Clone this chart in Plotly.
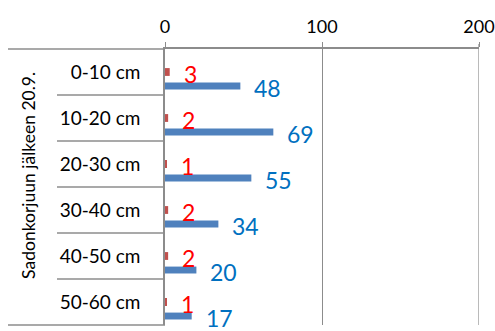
import plotly.graph_objects as go

categories = ["0-10 cm", "10-20 cm", "20-30 cm", "30-40 cm", "40-50 cm", "50-60 cm"]
series_red = [3, 2, 1, 2, 2, 1]
series_blue = [48, 69, 55, 34, 20, 17]
group_label = "Sadonkorjuun jälkeen 20.9."
x_ticks = [0, 100, 200]

FONT = "Lato, Open Sans, sans-serif"
GRAY = "#8c8c8c"

fig = go.Figure()
fig.add_trace(go.Bar(
    x=series_red, y=categories, orientation="h",
    marker=dict(color="#C0504D", line=dict(width=0)),
    width=0.17, offset=-0.085, showlegend=False, hoverinfo="x+y",
))
fig.add_trace(go.Bar(
    x=series_blue, y=categories, orientation="h",
    marker=dict(color="#4F81BD", line=dict(width=0)),
    width=0.15, offset=0.23, showlegend=False, hoverinfo="x+y",
))

annotations = []
for cat, v in zip(categories, series_red):
    annotations.append(dict(x=v, y=cat, xref="x", yref="y", text=str(v),
                            showarrow=False, xanchor="left", yanchor="middle",
                            xshift=12, yshift=-2,
                            font=dict(family=FONT, size=23, color="#FF0000")))
for cat, v in zip(categories, series_blue):
    annotations.append(dict(x=v, y=cat, xref="x", yref="y", text=str(v),
                            showarrow=False, xanchor="left", yanchor="middle",
                            xshift=12, yshift=-16,
                            font=dict(family=FONT, size=23, color="#0070C0")))
annotations.append(dict(x=-0.437, y=0.543, xref="paper", yref="paper",
                        text=group_label, textangle=-90, showarrow=False,
                        xanchor="center", yanchor="middle",
                        font=dict(family=FONT, size=17.5, color="#000000")))

shapes = [
    dict(type="line", xref="paper", yref="paper", x0=-0.5, x1=0, y0=1, y1=1,
         line=dict(color=GRAY, width=1.5)),
    dict(type="line", xref="paper", yref="paper", x0=-0.5, x1=0, y0=0, y1=0,
         line=dict(color=GRAY, width=1.5)),
    dict(type="line", xref="x", yref="paper", x0=x_ticks[-1], x1=x_ticks[-1],
         y0=0, y1=1.018, line=dict(color=GRAY, width=1.2)),
]
for k in range(len(categories) - 1):
    shapes.append(dict(type="line", xref="paper", yref="y", x0=-0.344, x1=0,
                       y0=k + 0.5, y1=k + 0.5, line=dict(color=GRAY, width=1.5)))

fig.update_layout(
    width=495, height=331,
    margin=dict(l=165, r=16, t=49, b=6, autoexpand=False),
    paper_bgcolor="white", plot_bgcolor="white",
    barmode="overlay",
    annotations=annotations,
    shapes=shapes,
    xaxis=dict(side="top", range=[0, 200], tickvals=x_ticks,
               automargin=False,
               showgrid=True, gridcolor=GRAY, gridwidth=1.2,
               showline=True, linecolor=GRAY, linewidth=1.5,
               ticks="outside", ticklen=5, tickcolor=GRAY, tickwidth=1.2,
               zeroline=False, ticklabelstandoff=2,
               ticklabeloverflow="allow",
               tickfont=dict(family=FONT, size=18, color="#000000")),
    yaxis=dict(type="category", range=[5.5, -0.5], automargin=False,
               showline=True, linecolor=GRAY, linewidth=1.5,
               showgrid=False, zeroline=False, ticks="",
               ticklabelstandoff=19,
               tickfont=dict(family=FONT, size=19, color="#000000")),
)

fig.write_html("out.html")
